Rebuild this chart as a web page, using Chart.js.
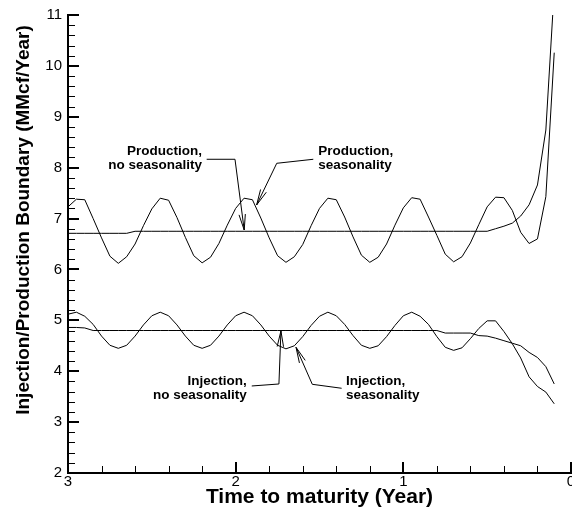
<!DOCTYPE html>
<html>
<head>
<meta charset="utf-8">
<script src="https://cdn.jsdelivr.net/npm/chart.js@4.4.1/dist/chart.umd.min.js"></script>
<style>
  html, body { margin: 0; padding: 0; background: #fff; }
  #wrap { width: 572px; height: 520px; }
</style>
</head>
<body>
<div id="wrap"><canvas id="chart" width="572" height="520"></canvas></div>
<script>
// time to maturity (years), shared by all four curves
const timeToMaturity = [
  3.00, 2.95, 2.90, 2.85, 2.80, 2.75, 2.70, 2.65, 2.60, 2.55,
  2.50, 2.45, 2.40, 2.35, 2.30, 2.25, 2.20, 2.15, 2.10, 2.05,
  2.00, 1.95, 1.90, 1.85, 1.80, 1.75, 1.70, 1.65, 1.60, 1.55,
  1.50, 1.45, 1.40, 1.35, 1.30, 1.25, 1.20, 1.15, 1.10, 1.05,
  1.00, 0.95, 0.90, 0.85, 0.80, 0.75, 0.70, 0.65, 0.60, 0.55,
  0.50, 0.45, 0.40, 0.35, 0.30, 0.25, 0.20, 0.15, 0.10
];

const prodSeasonality = [
  7.23, 7.38, 7.37, 7.00, 6.62, 6.26, 6.12, 6.25, 6.50, 6.86,
  7.19, 7.40, 7.36, 7.02, 6.63, 6.27, 6.13, 6.24, 6.51, 6.87,
  7.20, 7.40, 7.37, 7.01, 6.62, 6.27, 6.14, 6.25, 6.49, 6.86,
  7.20, 7.40, 7.37, 7.03, 6.64, 6.28, 6.14, 6.24, 6.50, 6.87,
  7.21, 7.41, 7.38, 7.03, 6.67, 6.30, 6.15, 6.25, 6.52, 6.88,
  7.23, 7.42, 7.41, 7.16, 6.73, 6.51, 6.60, 7.43, 10.26
];

const prodNoSeasonality = [
  6.71, 6.71, 6.71, 6.71, 6.71, 6.71, 6.71, 6.71, 6.75, 6.75,
  6.75, 6.75, 6.75, 6.75, 6.75, 6.75, 6.75, 6.75, 6.75, 6.75,
  6.75, 6.75, 6.75, 6.75, 6.75, 6.75, 6.75, 6.75, 6.75, 6.75,
  6.75, 6.75, 6.75, 6.75, 6.75, 6.75, 6.75, 6.75, 6.75, 6.75,
  6.75, 6.75, 6.75, 6.75, 6.75, 6.75, 6.75, 6.75, 6.75, 6.75,
  6.75, 6.80, 6.85, 6.91, 7.05, 7.27, 7.66, 8.74, 11.5
];

const injSeasonality = [
  5.12, 5.16, 5.08, 4.92, 4.69, 4.51, 4.45, 4.51, 4.69, 4.91,
  5.09, 5.16, 5.09, 4.91, 4.69, 4.51, 4.45, 4.51, 4.69, 4.91,
  5.09, 5.16, 5.09, 4.91, 4.69, 4.51, 4.44, 4.50, 4.68, 4.90,
  5.08, 5.16, 5.09, 4.92, 4.70, 4.51, 4.45, 4.50, 4.68, 4.90,
  5.09, 5.16, 5.08, 4.92, 4.68, 4.47, 4.41, 4.46, 4.64, 4.84,
  4.99, 4.99, 4.78, 4.54, 4.26, 3.89, 3.70, 3.59, 3.36
];

const injNoSeasonality = [
  4.86, 4.86, 4.85, 4.80, 4.80, 4.80, 4.80, 4.80, 4.80, 4.80,
  4.80, 4.80, 4.80, 4.80, 4.80, 4.80, 4.80, 4.80, 4.80, 4.80,
  4.80, 4.80, 4.80, 4.80, 4.80, 4.80, 4.80, 4.80, 4.80, 4.80,
  4.80, 4.80, 4.80, 4.80, 4.80, 4.80, 4.80, 4.80, 4.80, 4.80,
  4.80, 4.80, 4.80, 4.80, 4.80, 4.75, 4.75, 4.75, 4.75, 4.70,
  4.69, 4.65, 4.60, 4.55, 4.50, 4.37, 4.27, 4.09, 3.75
];

const seriesNames = [
  'Production, seasonality', 'Production, no seasonality',
  'Injection, seasonality', 'Injection, no seasonality'
];

const FONT = '"Liberation Sans", Arial, Helvetica, sans-serif';

// callout labels with leader lines (data coordinates)
const callouts = [
  { lines: ['Production,', 'no seasonality'], align: 'right', at: [2.201, 8.314],
    path: [[2.173, 8.165], [2.004, 8.165], [1.949, 6.775]] },
  { lines: ['Production,', 'seasonality'], align: 'left', at: [1.507, 8.314],
    path: [[1.537, 8.165], [1.755, 8.086], [1.875, 7.267]] },
  { lines: ['Injection,', 'no seasonality'], align: 'right', at: [1.934, 3.794],
    path: [[1.904, 3.710], [1.742, 3.749], [1.730, 4.791]] },
  { lines: ['Injection,', 'seasonality'], align: 'left', at: [1.342, 3.794],
    path: [[1.368, 3.665], [1.543, 3.743], [1.640, 4.470]] }
];

function toPoints(ys) {
  return timeToMaturity.map((t, i) => ({ x: t, y: ys[i] }));
}

// inward tick marks, axis titles and callouts
const decorPlugin = {
  id: 'decor',
  afterDraw(chart) {
    const ctx = chart.ctx;
    const xs = chart.scales.x, ys = chart.scales.y;
    const area = chart.chartArea;
    ctx.save();
    ctx.strokeStyle = '#000';
    ctx.lineCap = 'butt';

    // x ticks
    for (let i = 0; i <= 15; i++) {
      const v = i * 0.2;
      const major = i % 5 === 0;
      const px = Math.round(xs.getPixelForValue(v));
      ctx.lineWidth = major ? 2 : 1;
      const off = major ? 0 : 0.5;
      ctx.beginPath();
      ctx.moveTo(px + off, area.bottom);
      ctx.lineTo(px + off, area.bottom - (major ? 11 : 7));
      ctx.stroke();
    }
    // y ticks
    for (let i = 0; i <= 45; i++) {
      const v = 2 + i * 0.2;
      const major = i % 5 === 0;
      const py = Math.round(ys.getPixelForValue(v));
      ctx.lineWidth = major ? 2 : 1;
      const off = major ? 0 : 0.5;
      ctx.beginPath();
      ctx.moveTo(area.left, py + off);
      ctx.lineTo(area.left + (major ? 11 : 7), py + off);
      ctx.stroke();
    }

    // axis titles
    ctx.fillStyle = '#000';
    ctx.font = 'bold 21px ' + FONT;
    ctx.textAlign = 'center';
    ctx.textBaseline = 'middle';
    ctx.fillText('Time to maturity (Year)', (area.left + area.right) / 2, 497);
    ctx.save();
    ctx.translate(24, 220);
    ctx.rotate(-Math.PI / 2);
    ctx.font = 'bold 19px ' + FONT;
    ctx.fillText('Injection/Production Boundary (MMcf/Year)', 0, 0);
    ctx.restore();

    // callouts
    ctx.font = 'bold 13.5px ' + FONT;
    ctx.lineWidth = 1;
    callouts.forEach(c => {
      const tx = xs.getPixelForValue(c.at[0]);
      const ty = ys.getPixelForValue(c.at[1]);
      ctx.textAlign = c.align;
      c.lines.forEach((s, k) => ctx.fillText(s, tx, ty + k * 14));

      const pts = c.path.map(p => [xs.getPixelForValue(p[0]), ys.getPixelForValue(p[1])]);
      ctx.beginPath();
      pts.forEach((p, k) => k ? ctx.lineTo(p[0], p[1]) : ctx.moveTo(p[0], p[1]));
      ctx.stroke();

      // open arrow head
      const tip = pts[pts.length - 1], prev = pts[pts.length - 2];
      const ang = Math.atan2(prev[1] - tip[1], prev[0] - tip[0]);
      const len = 16, spread = 0.2;
      ctx.beginPath();
      ctx.moveTo(tip[0] + len * Math.cos(ang - spread), tip[1] + len * Math.sin(ang - spread));
      ctx.lineTo(tip[0], tip[1]);
      ctx.lineTo(tip[0] + len * Math.cos(ang + spread), tip[1] + len * Math.sin(ang + spread));
      ctx.stroke();
    });
    ctx.restore();
  }
};

new Chart(document.getElementById('chart'), {
  type: 'line',
  data: {
    datasets: [prodSeasonality, prodNoSeasonality, injSeasonality, injNoSeasonality].map((ys, i) => ({
      label: seriesNames[i],
      data: toPoints(ys),
      borderColor: '#000',
      borderWidth: 1,
      pointRadius: 0,
      tension: 0,
      fill: false
    }))
  },
  options: {
    responsive: false,
    animation: false,
    layout: { padding: { top: 15, right: 1, left: 0, bottom: 0 } },
    plugins: { legend: { display: false }, tooltip: { enabled: false } },
    scales: {
      x: {
        type: 'linear', reverse: true, min: 0, max: 3,
        grid: { display: false, drawTicks: false },
        border: { display: true, color: '#000', width: 2 },
        ticks: { stepSize: 1, color: '#000', padding: 0, maxRotation: 0, font: { family: FONT, size: 15 } },
        afterFit: s => { s.height = 47; s.paddingLeft = 0; s.paddingRight = 0; }
      },
      y: {
        type: 'linear', min: 2, max: 11,
        grid: { display: false, drawTicks: false },
        border: { display: true, color: '#000', width: 2 },
        ticks: { stepSize: 1, color: '#000', padding: 6, font: { family: FONT, size: 15 } },
        afterFit: s => { s.width = 68; s.paddingTop = 0; s.paddingBottom = 0; }
      }
    }
  },
  plugins: [decorPlugin]
});
</script>
</body>
</html>
